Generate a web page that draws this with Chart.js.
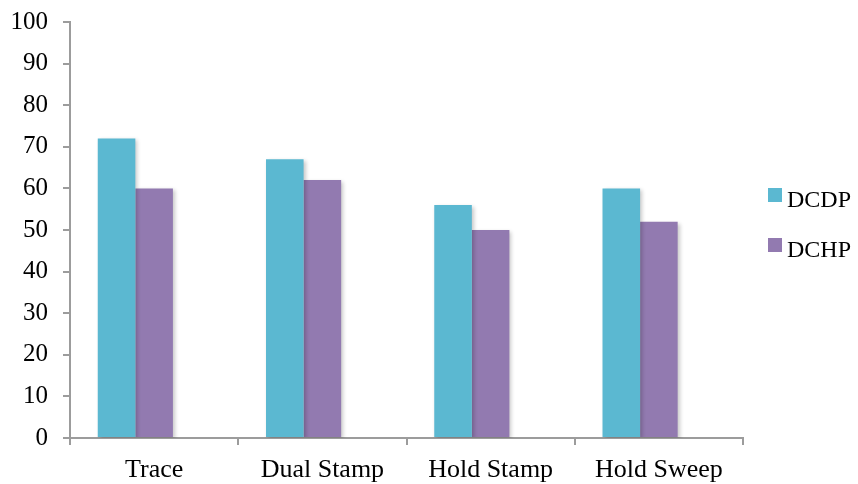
<!DOCTYPE html>
<html>
<head>
<meta charset="utf-8">
<script src="https://cdn.jsdelivr.net/npm/chart.js@4/dist/chart.umd.min.js"></script>
<style>
  html, body { margin: 0; padding: 0; background: #ffffff; }
  #wrap { position: relative; width: 858px; height: 484px; }
</style>
</head>
<body>
<div id="wrap"><canvas id="c" width="858" height="484"></canvas></div>
<script>
// Categories and series values
const categories = ['Trace', 'Dual Stamp', 'Hold Stamp', 'Hold Sweep'];
const dcdp = [72, 67, 56, 60];
const dchp = [60, 62, 50, 52];
// third series slot of the group, no values entered
const emptySeries = [null, null, null, null];
const yTicks = [0, 10, 20, 30, 40, 50, 60, 70, 80, 90, 100];

const SERIF = '"Liberation Serif", "Times New Roman", serif';
const AXIS_GRAY = '#9c9c9c';

// soft drop shadow under the bars
const barShadow = {
  id: 'barShadow',
  beforeDatasetsDraw(chart) {
    const ctx = chart.ctx;
    ctx.save();
    ctx.shadowColor = 'rgba(0,0,0,0.22)';
    ctx.shadowBlur = 4;
    ctx.shadowOffsetX = 2;
    ctx.shadowOffsetY = 2;
  },
  afterDatasetsDraw(chart) {
    chart.ctx.restore();
  }
};

// legend on the right: small square swatch + label
const sideLegend = {
  id: 'sideLegend',
  afterDraw(chart) {
    const ctx = chart.ctx;
    const items = chart.data.datasets.filter(d => d.label);
    ctx.save();
    ctx.font = '24px ' + SERIF;
    ctx.textBaseline = 'alphabetic';
    ctx.textAlign = 'left';
    items.forEach((d, i) => {
      const top = 188 + i * 50;
      ctx.fillStyle = d.backgroundColor;
      ctx.fillRect(768, top, 14, 14);
      ctx.fillStyle = '#000000';
      ctx.fillText(d.label, 787, top + 18.7);
    });
    ctx.restore();
  }
};

new Chart(document.getElementById('c'), {
  type: 'bar',
  data: {
    labels: categories,
    datasets: [
      { label: 'DCDP', data: dcdp, backgroundColor: '#5bb8d1', borderWidth: 0 },
      { label: 'DCHP', data: dchp, backgroundColor: '#927ab0', borderWidth: 0 },
      { label: '', data: emptySeries, backgroundColor: 'rgba(0,0,0,0)', borderWidth: 0 }
    ]
  },
  plugins: [barShadow, sideLegend],
  options: {
    responsive: false,
    animation: false,
    devicePixelRatio: 1,
    layout: { padding: { top: 22, right: 115, bottom: 0, left: 0 } },
    plugins: {
      legend: { display: false },
      tooltip: { enabled: false }
    },
    datasets: {
      bar: { categoryPercentage: 0.67, barPercentage: 1.0 }
    },
    scales: {
      x: {
        grid: {
          offset: true,
          drawOnChartArea: false,
          drawTicks: true,
          tickLength: 7,
          color: AXIS_GRAY,
          lineWidth: 2
        },
        border: { display: true, color: AXIS_GRAY, width: 2 },
        ticks: {
          color: '#000000',
          font: { family: SERIF, size: 26 },
          padding: 10,
          maxRotation: 0
        },
        afterFit(scale) {
          scale.height = 46;
          scale.paddingLeft = 0;
          scale.paddingRight = 0;
        }
      },
      y: {
        min: 0,
        max: 100,
        afterBuildTicks(scale) { scale.ticks = yTicks.map(v => ({ value: v })); },
        grid: {
          drawOnChartArea: false,
          drawTicks: true,
          tickLength: 7,
          color: AXIS_GRAY,
          lineWidth: 2
        },
        border: { display: true, color: AXIS_GRAY, width: 2 },
        ticks: {
          color: '#000000',
          font: { family: SERIF, size: 25 },
          padding: 15
        },
        afterFit(scale) {
          scale.width = 70;
          scale.paddingTop = 0;
          scale.paddingBottom = 0;
        }
      }
    }
  }
});
</script>
</body>
</html>
